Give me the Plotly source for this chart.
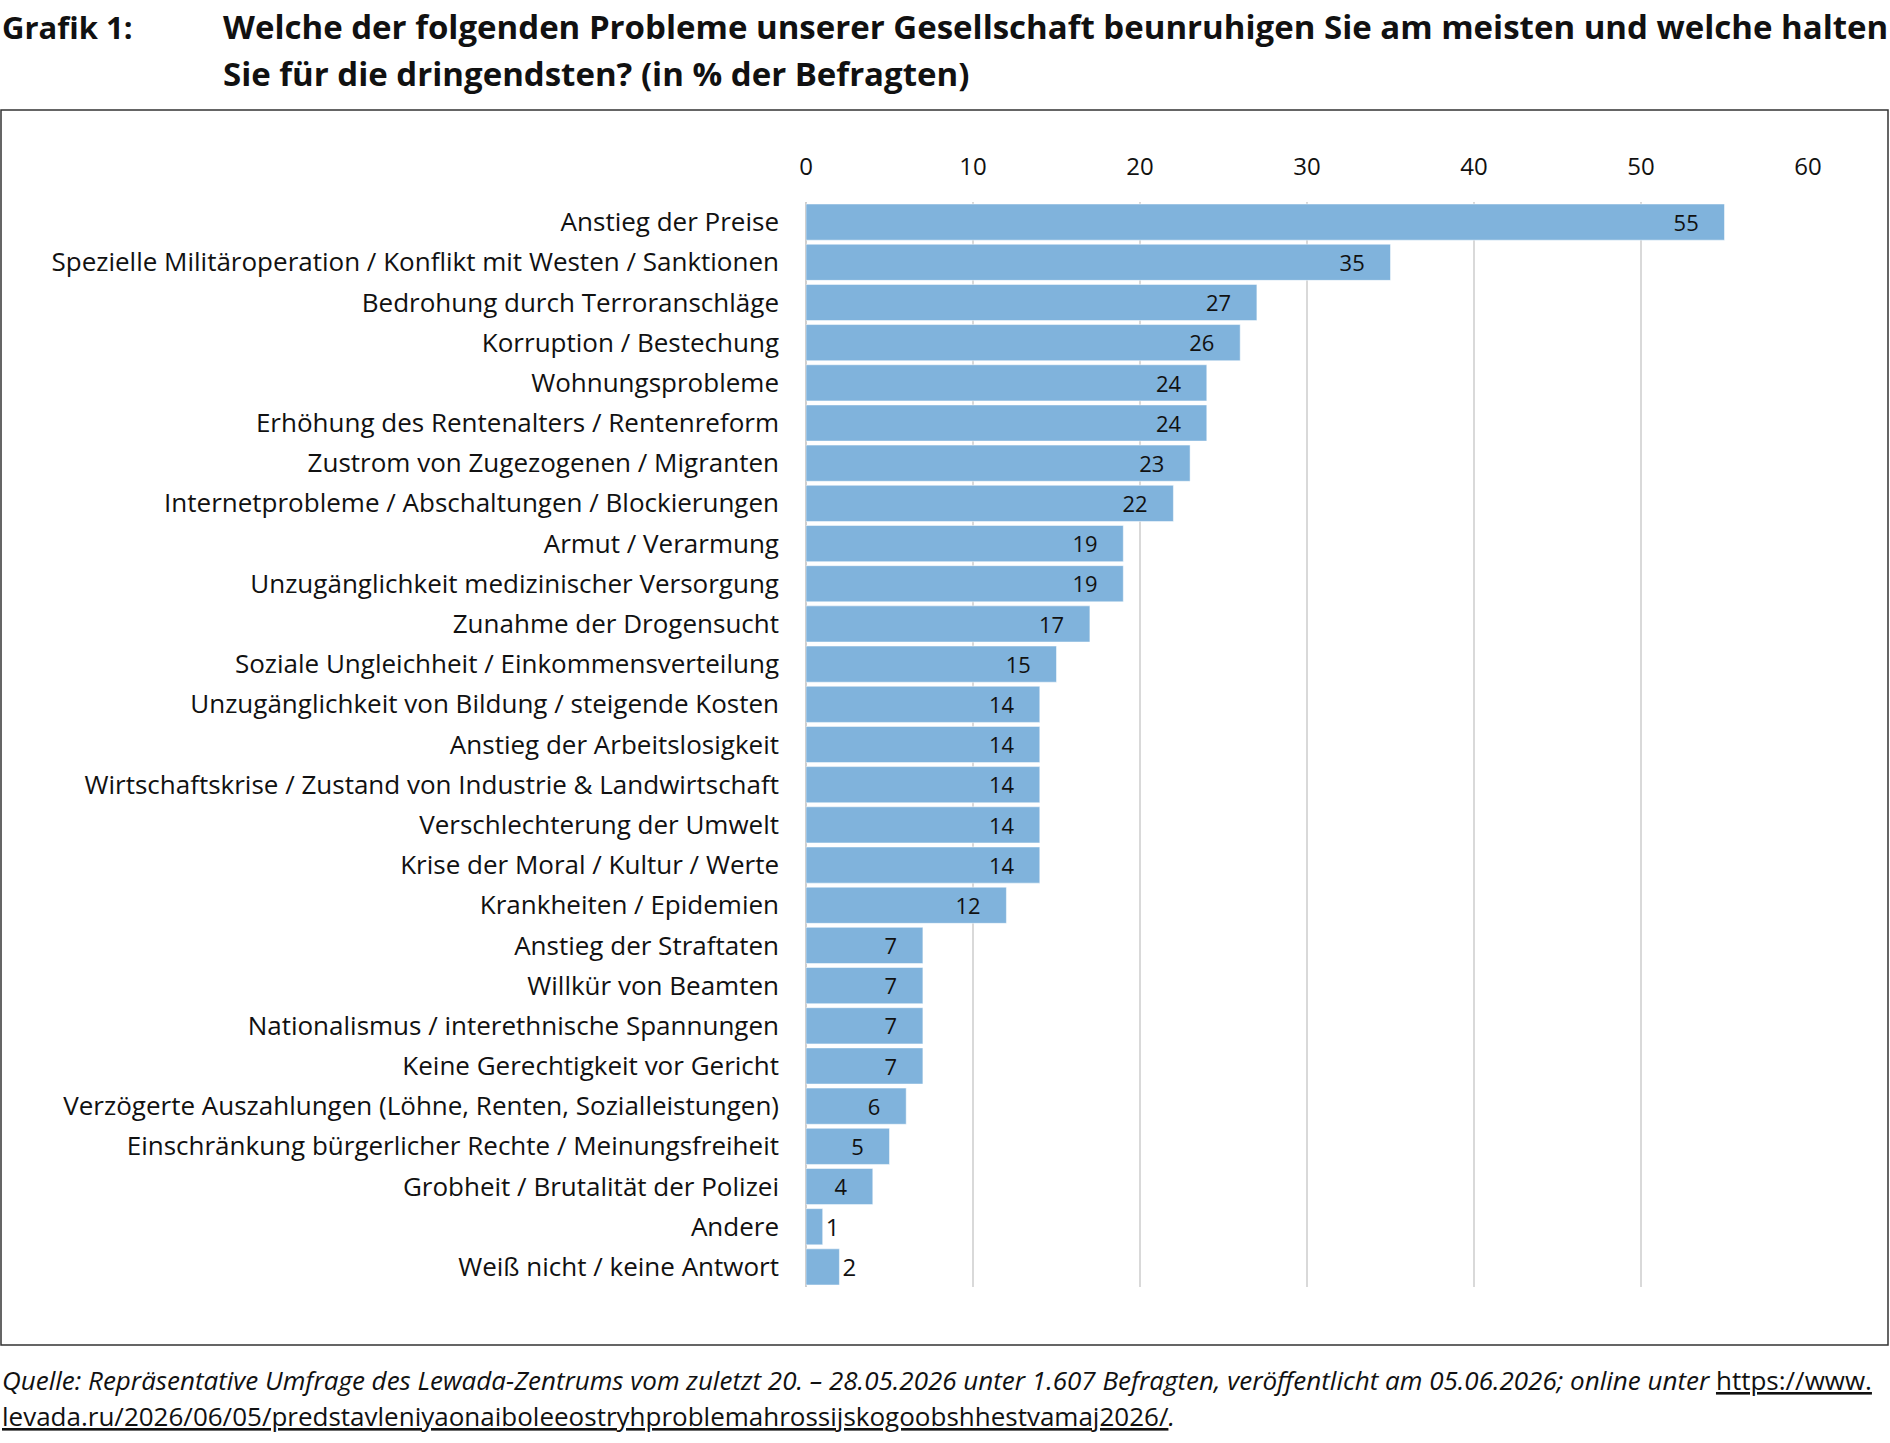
import plotly.graph_objects as go

categories = [
    "Anstieg der Preise",
    "Spezielle Militäroperation / Konflikt mit Westen / Sanktionen",
    "Bedrohung durch Terroranschläge",
    "Korruption / Bestechung",
    "Wohnungsprobleme",
    "Erhöhung des Rentenalters / Rentenreform",
    "Zustrom von Zugezogenen / Migranten",
    "Internetprobleme / Abschaltungen / Blockierungen",
    "Armut / Verarmung",
    "Unzugänglichkeit medizinischer Versorgung",
    "Zunahme der Drogensucht",
    "Soziale Ungleichheit / Einkommensverteilung",
    "Unzugänglichkeit von Bildung / steigende Kosten",
    "Anstieg der Arbeitslosigkeit",
    "Wirtschaftskrise / Zustand von Industrie & Landwirtschaft",
    "Verschlechterung der Umwelt",
    "Krise der Moral / Kultur / Werte",
    "Krankheiten / Epidemien",
    "Anstieg der Straftaten",
    "Willkür von Beamten",
    "Nationalismus / interethnische Spannungen",
    "Keine Gerechtigkeit vor Gericht",
    "Verzögerte Auszahlungen (Löhne, Renten, Sozialleistungen)",
    "Einschränkung bürgerlicher Rechte / Meinungsfreiheit",
    "Grobheit / Brutalität der Polizei",
    "Andere",
    "Weiß nicht / keine Antwort",
]
values = [55, 35, 27, 26, 24, 24, 23, 22, 19, 19, 17, 15, 14, 14, 14, 14, 14, 12,
          7, 7, 7, 7, 6, 5, 4, 1, 2]
x_ticks = [0, 10, 20, 30, 40, 50, 60]

title_label = "Grafik 1:"
title_lines = [
    "Welche der folgenden Probleme unserer Gesellschaft beunruhigen Sie am meisten und welche halten",
    "Sie für die dringendsten? (in % der Befragten)",
]
source_line1 = ("Quelle: Repräsentative Umfrage des Lewada-Zentrums vom zuletzt 20. – 28.05.2026 "
                "unter 1.607 Befragten, veröffentlicht am 05.06.2026; online unter ")
source_link1 = "https://www."
source_link2 = "levada.ru/2026/06/05/predstavleniyaonaiboleeostryhproblemahrossijskogoobshhestvamaj2026/"

FONT = "Open Sans"
W, H = 1890, 1443
L, R, T, B = 806, 82, 202, 156
pw, ph = W - L - R, H - T - B


def px(x):
    return (x - L) / pw


def py(y):
    return (H - B - y) / ph


NB = "\u00a0"
positions = ["inside" if v >= 4 else "outside" for v in values]
texts = [(f"{v}" + NB * 4) if v >= 4 else f"{v}" for v in values]

fig = go.Figure(go.Bar(
    x=values, y=categories, orientation="h",
    marker=dict(color="#80b3dc", line=dict(color="#ffffff", width=0.5)),
    text=texts, textposition=positions, insidetextanchor="end",
    textfont=dict(family=FONT, size=24, color="#111111"),
    insidetextfont=dict(family=FONT, size=24, color="#111111"),
    outsidetextfont=dict(family=FONT, size=24, color="#111111"),
    cliponaxis=False,
    hoverinfo="skip",
))

fig.update_layout(
    width=W, height=H,
    margin=dict(l=L, r=R, t=T, b=B, pad=0),
    plot_bgcolor="white", paper_bgcolor="white",
    bargap=0.1,
    showlegend=False,
    xaxis=dict(
        side="top", range=[0, 60], tickvals=x_ticks,
        showgrid=True, gridcolor="#d9d9d9", gridwidth=1.5,
        zeroline=True, zerolinecolor="#cfcfcf", zerolinewidth=2,
        showline=False, ticks="", ticklabelstandoff=21,
        tickfont=dict(family=FONT, size=24, color="#111111"),
        fixedrange=True,
    ),
    yaxis=dict(
        autorange="reversed", showgrid=False, showline=False, ticks="",
        ticklabelstandoff=26,
        tickfont=dict(family=FONT, size=26, color="#111111"),
        fixedrange=True,
    ),
)

# frame around the chart area
fig.add_shape(type="rect", xref="paper", yref="paper",
              x0=px(1), x1=px(1888), y0=py(1345), y1=py(110),
              line=dict(color="#333333", width=1.5), fillcolor="rgba(0,0,0,0)")

UL = "text-decoration:underline;text-decoration-color:#7f9cc4"
ann = []
ann.append(dict(text=f"<b>{title_label}</b>", x=px(0), y=py(27), xanchor="left", yanchor="middle",
                font=dict(family=FONT, size=31, color="#111111")))
for i, line in enumerate(title_lines):
    ann.append(dict(text=f"<b>{line}</b>", x=px(221), y=py(27 + 47 * i), xanchor="left", yanchor="middle",
                    font=dict(family=FONT, size=33, color="#111111")))
ann.append(dict(
    text=f"<i>{source_line1}</i><span style='{UL}'>{source_link1}</span>",
    x=px(0), y=py(1380), xanchor="left", yanchor="middle",
    font=dict(family=FONT, size=26, color="#111111")))
ann.append(dict(
    text=f"<span style='{UL}'>{source_link2}</span><i>.</i>",
    x=px(0), y=py(1416), xanchor="left", yanchor="middle",
    font=dict(family=FONT, size=26, color="#111111")))
for a in ann:
    a.update(xref="paper", yref="paper", showarrow=False, align="left")
fig.update_layout(annotations=ann)

fig.write_html("out.html")
